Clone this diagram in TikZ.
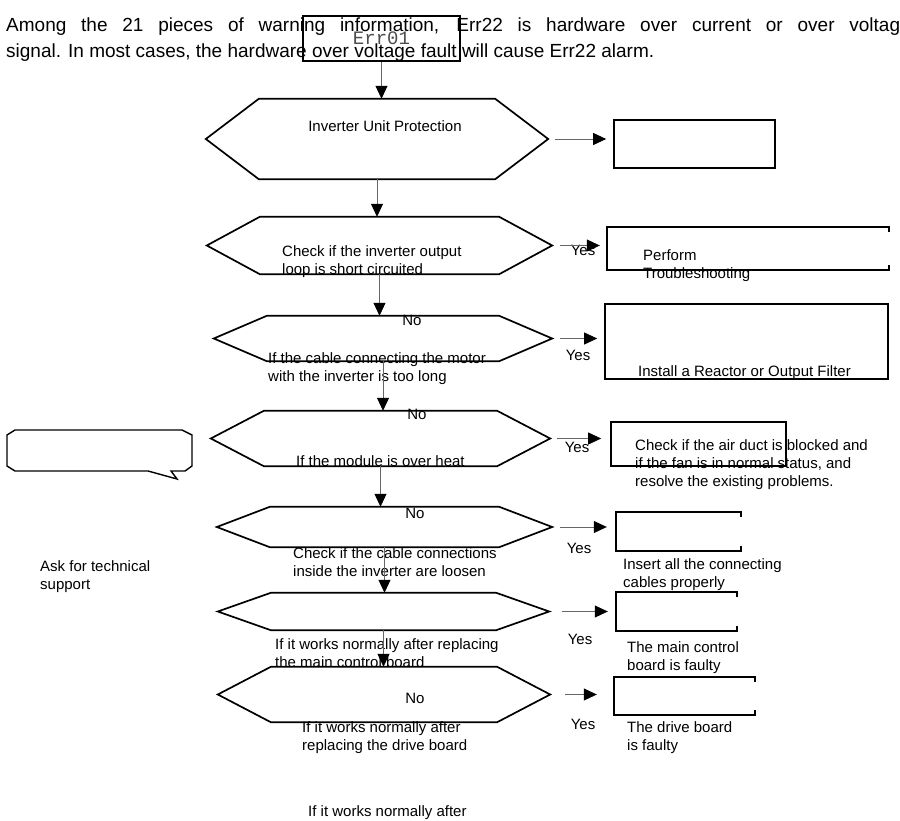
\documentclass[tikz,border=0pt]{standalone}
\usepackage{fontspec}
\setmainfont{Liberation Sans}
\newfontfamily\errfont{Liberation Mono}
\usetikzlibrary{arrows.meta,positioning}
% outline of a decision hexagon round a node
\newcommand{\hexout}[1]{\draw[hexline] (#1.west) -- ([xshift=53pt]#1.north west) -- ([xshift=-53pt]#1.north east) -- (#1.east) -- ([xshift=-53pt]#1.south east) -- ([xshift=53pt]#1.south west) -- cycle;}
% result box whose right side is left open
\newcommand{\openright}[1]{\draw[boxline] ([yshift=-5pt]#1.north east) -- (#1.north east) -- (#1.north west) -- (#1.south west) -- (#1.south east) -- ++(0,5pt);}

\begin{document}
\begin{tikzpicture}[x=1pt,y=-1pt,
    every node/.style={font=\fontsize{15}{18}\selectfont,inner sep=0pt,align=left},
    hexa/.style={draw=none},
    hexline/.style={line width=1.7pt,line join=miter},
    boxline/.style={line width=1.7pt},
    box/.style={draw,line width=1.7pt},
    txt/.style={anchor=west},
    arrow/.style={-{Triangle[length=13pt,width=12pt,color=black]},draw=black!60,line width=0.8pt},
    yesno/.style={anchor=center}
]
\useasboundingbox (0,0) rectangle (900,821);

\node[anchor=west,font=\fontsize{19}{26}\selectfont] (intro) at (6,40)
  {\makebox[894pt][s]{Among the 21 pieces of warning information, Err22 is hardware over current or over voltag}\\signal. In most cases, the hardware over voltage fault will cause Err22 alarm.};
\node[box,line width=1.4pt,minimum width=157pt,minimum height=45pt,font=\errfont\fontsize{19}{19}\selectfont,text=black!70] (err) at (381.5,38.5) {Err01};

% decisions
\node[hexa,minimum width=342pt,minimum height=80pt] (prot) at (377,139) {};
\node[hexa,minimum width=345pt,minimum height=57pt] (shortc) at (379.5,245.5) {};
\node[hexa,minimum width=338pt,minimum height=45pt] (cable) at (383,338.5) {};
\node[hexa,minimum width=339pt,minimum height=55pt] (heat) at (380.5,438.5) {};
\node[hexa,minimum width=335pt,minimum height=40pt] (conn) at (384.5,527) {};
\node[hexa,minimum width=331pt,minimum height=37pt] (mainb) at (383.5,611.5) {};
\node[hexa,minimum width=332pt,minimum height=55pt] (driveb) at (384,694.5) {};
\hexout{prot}
\hexout{shortc}
\hexout{cable}
\hexout{heat}
\hexout{conn}
\hexout{mainb}
\hexout{driveb}

\node[anchor=center] (prottxt) at (385,126) {Inverter Unit Protection};
\node[txt] (shortctxt) at (282,262) {Check if the inverter output\\loop is short circuited};
\node[txt] (cabletxt) at (268,369) {If the cable connecting the motor\\with the inverter is too long};
\node[txt] (heattxt) at (296,461) {If the module is over heat};
\node[txt] (conntxt) at (293,562.5) {Check if the cable connections\\inside the inverter are loosen};
\node[txt] (mainbtxt) at (275,653) {If it works normally after replacing\\the main control board};
\node[txt] (drivebtxt) at (302,738) {If it works normally after\\replacing the drive board};
\node[txt] (lasttxt) at (308,813) {If it works normally after};

% results
\node[box,minimum width=161pt,minimum height=48pt] (protres) at (694.5,144) {};
\node[minimum width=282pt,minimum height=43pt] (trouble) at (748,248.5) {};
\node[box,minimum width=283pt,minimum height=75pt] (reactor) at (746.5,341.5) {};
\node[box,minimum width=175pt,minimum height=44pt] (airduct) at (698.5,444) {};
\node[minimum width=125pt,minimum height=39pt] (insert) at (678.5,531.5) {};
\node[minimum width=121pt,minimum height=39pt] (mainfault) at (676.5,611.5) {};
\node[minimum width=141pt,minimum height=38pt] (drivefault) at (684.5,696) {};
\openright{trouble}
\openright{insert}
\openright{mainfault}
\openright{drivefault}

\node[txt] (troubletxt) at (643,266) {Perform\\Troubleshooting};
\node[txt] (reactortxt) at (638,373) {Install a Reactor or Output Filter};
\node[txt] (airducttxt) at (635,465) {Check if the air duct is blocked and\\if the fan is in normal status, and\\resolve the existing problems.};
\node[txt] (inserttxt) at (623,574.5) {Insert all the connecting\\cables properly};
\node[txt] (mainfaulttxt) at (627,658) {The main control\\board is faulty};
\node[txt] (drivefaulttxt) at (627,738) {The drive board\\is faulty};

% support callout
\draw[hexline,line width=1.4pt] (7,435) -- (15,430) -- (182,430) -- (192,435) -- (192,466) -- (185,471) -- (171,471) -- (177,479) -- (148,471) -- (15,471) -- (7,466) -- cycle;
\node[txt] (support) at (40,577) {Ask for technical\\support};

% yes / no
\node[yesno] (y1) at (583,250) {Yes};
\node[yesno] (y2) at (578,355) {Yes};
\node[yesno] (y3) at (577,447) {Yes};
\node[yesno] (y4) at (579,548) {Yes};
\node[yesno] (y5) at (580,639) {Yes};
\node[yesno] (y6) at (583,724) {Yes};
\node[yesno] (n1) at (412,320) {No};
\node[yesno] (n2) at (417,414) {No};
\node[yesno] (n3) at (415,513) {No};
\node[yesno] (n4) at (415,698) {No};

\draw[arrow] (err.south) -- (err.south |- prot.north);
\draw[arrow] (prot.south) -- (prot.south |- shortc.north);
\draw[arrow] (shortc.south) -- (shortc.south |- cable.north);
\draw[arrow] (cable.south) -- (cable.south |- heat.north);
\draw[arrow] (heat.south) -- (heat.south |- conn.north);
\draw[arrow] (conn.south) -- (conn.south |- mainb.north);
\draw[arrow] (mainb.south) -- (mainb.south |- driveb.north);

\draw[arrow,shorten <=7pt,shorten >=7pt] (prot.east) -- (prot.east -| protres.west);
\draw[arrow,shorten <=8pt,shorten >=7pt] (shortc.east) -- (shortc.east -| trouble.west);
\draw[arrow,shorten <=8pt,shorten >=7pt] (cable.east) -- (cable.east -| reactor.west);
\draw[arrow,shorten <=7pt,shorten >=9pt] (heat.east) -- (heat.east -| airduct.west);
\draw[arrow,shorten <=8pt,shorten >=9pt] (conn.east) -- (conn.east -| insert.west);
\draw[arrow,shorten <=13pt,shorten >=8pt] (mainb.east) -- (mainb.east -| mainfault.west);
\draw[arrow,shorten <=15pt,shorten >=17pt] (driveb.east) -- (driveb.east -| drivefault.west);
\end{tikzpicture}
\end{document}
